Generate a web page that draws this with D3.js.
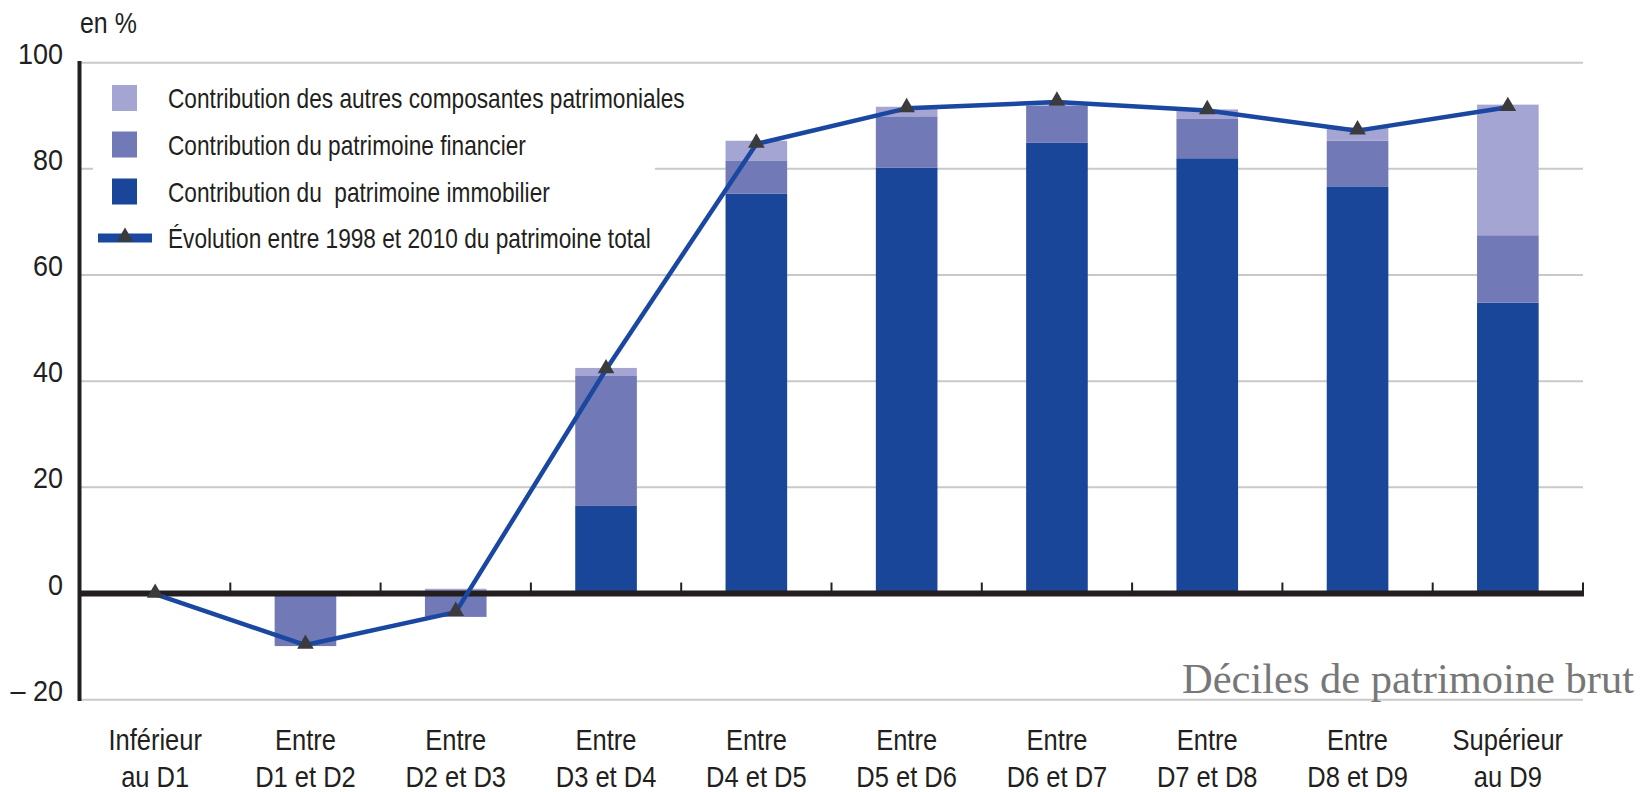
<!DOCTYPE html>
<html><head><meta charset="utf-8">
<script src="https://cdn.jsdelivr.net/npm/d3@7"></script>
<style>
html,body{margin:0;padding:0;background:#fff;}
svg{display:block;}
.narrow{font-family:"Liberation Sans",Arial,sans-serif;}
</style></head>
<body><svg id="chart" width="1645" height="792"></svg>
<script>
const categories = [["Inférieur","au D1"],["Entre","D1 et D2"],["Entre","D2 et D3"],["Entre","D3 et D4"],["Entre","D4 et D5"],["Entre","D5 et D6"],["Entre","D6 et D7"],["Entre","D7 et D8"],["Entre","D8 et D9"],["Supérieur","au D9"]];
const immobilier = [0, 0, 0, 16.5, 75.3, 80.2, 84.9, 82.0, 76.7, 54.8];
const financier  = [0, -9.9, -4.4, 24.6, 6.3, 9.7, 7.0, 7.4, 8.6, 12.7];
const autres     = [0, 0, 0.9, 1.4, 3.7, 1.8, 0.3, 1.8, 2.5, 24.6];
const total      = [-0.1, -9.7, -3.5, 42.2, 84.7, 91.4, 92.6, 91.0, 87.2, 91.6];
const yTicks = [-20, 0, 20, 40, 60, 80, 100];
const yTickLabels = ["– 20", "0", "20", "40", "60", "80", "100"];
const legendLabels = ["Contribution des autres composantes patrimoniales","Contribution du patrimoine financier","Contribution du  patrimoine immobilier","Évolution entre 1998 et 2010 du patrimoine total"];
const unitLabel = "en %";
const axisTitle = "Déciles de patrimoine brut";

const colors = {immobilier:"#1a4699", financier:"#7179b6", autres:"#a4a5d3"};
const lineColor = "#1a47a0", markColor = "#3b3b3d", inkColor = "#231f20";

const svg = d3.select("#chart");
const x = d3.scaleBand().domain(d3.range(categories.length)).range([80, 1583]).paddingInner(0.59).paddingOuter(0.295);
const xb = d3.scaleBand().domain(d3.range(categories.length)).range([80, 1583]);
const y = d3.scaleLinear().domain([-20, 100]).range([699.7, 62.7]);

// gridlines
svg.append("g").selectAll("line").data(yTicks.filter(d => d !== 0)).join("line")
  .attr("x1", 80).attr("x2", 1583).attr("y1", d => y(d)).attr("y2", d => y(d))
  .attr("stroke", "#c9c9c9").attr("stroke-width", 2);

// y labels
svg.append("g").attr("class","narrow").selectAll("text").data(yTicks).join("text")
  .attr("transform", d => `translate(63,${y(d) + 1}) scale(0.9,1)`)
  .attr("text-anchor","end")
  .attr("font-size", 30).attr("fill", inkColor)
  .text((d,i) => yTickLabels[i]);
svg.append("text").attr("class","narrow").attr("transform", `translate(80,33) scale(0.86,1)`)
  .attr("font-size", 29).attr("fill", inkColor).text(unitLabel);

// legend background
svg.append("rect").attr("x", 93).attr("y", 72).attr("width", 562).attr("height", 184).attr("fill","#fff");

// stacked bars
const table = categories.map((c,i) => ({i, immobilier: immobilier[i], financier: financier[i], autres: autres[i]}));
const stack = d3.stack().keys(["immobilier","financier","autres"]).offset(d3.stackOffsetDiverging);
const series = stack(table);
svg.append("g").selectAll("g").data(series).join("g").attr("fill", s => colors[s.key])
  .selectAll("rect").data(s => s).join("rect")
  .attr("x", d => x(d.data.i)).attr("width", x.bandwidth())
  .attr("y", d => y(Math.max(d[0], d[1]))).attr("height", d => Math.abs(y(d[0]) - y(d[1])));

// left axis
svg.append("line").attr("x1", 79.5).attr("x2", 79.5).attr("y1", 61).attr("y2", 701).attr("stroke", inkColor).attr("stroke-width", 4);
// zero line
svg.append("line").attr("x1", 78).attr("x2", 1584).attr("y1", y(0)).attr("y2", y(0)).attr("stroke", inkColor).attr("stroke-width", 6);
// category ticks
svg.append("g").selectAll("line").data(d3.range(1, categories.length + 1)).join("line")
  .attr("x1", d => xb.step()*d + 80).attr("x2", d => xb.step()*d + 80)
  .attr("y1", y(0)).attr("y2", y(0) - 11).attr("stroke", inkColor).attr("stroke-width", 2);

// total line
const lineGen = d3.line().x((d,i) => x(i) + x.bandwidth()/2).y(d => y(d));
svg.append("path").datum(total).attr("d", lineGen).attr("fill","none").attr("stroke", lineColor).attr("stroke-width", 4.5).attr("stroke-linejoin","round");
const tri = d3.symbol(d3.symbolTriangle).size(120);
svg.append("g").selectAll("path").data(total).join("path")
  .attr("d", tri).attr("fill", markColor)
  .attr("transform", (d,i) => `translate(${x(i) + x.bandwidth()/2},${y(d) - 1})`);

// x labels
const xl = svg.append("g").attr("class","narrow").selectAll("text").data(categories).join("text")
  .attr("transform", (d,i) => `translate(${x(i) + x.bandwidth()/2},0) scale(0.85,1)`)
  .attr("text-anchor","middle").attr("font-size", 30).attr("fill", inkColor);
xl.append("tspan").attr("x", 0).attr("y", 750).text(d => d[0]);
xl.append("tspan").attr("x", 0).attr("y", 787).text(d => d[1]);

// axis title
svg.append("text").attr("x", 1634).attr("y", 693).attr("text-anchor","end")
  .attr("font-family","'Liberation Serif','Times New Roman',serif").attr("font-size", 42.5).attr("fill","#777").text(axisTitle);

// legend
const legY = [98, 144.5, 191.5, 238];
const legColors = [colors.autres, colors.financier, colors.immobilier];
const lg = svg.append("g");
lg.selectAll("rect.sw").data(legColors).join("rect").attr("class","sw")
  .attr("x", 112).attr("y", (d,i) => legY[i] - 13).attr("width", 25).attr("height", 26).attr("fill", d => d);
lg.append("line").attr("x1", 98).attr("x2", 152).attr("y1", legY[3]).attr("y2", legY[3]).attr("stroke", lineColor).attr("stroke-width", 9);
lg.append("path").attr("d", tri).attr("fill", markColor).attr("transform", `translate(125,${legY[3]-1})`);
lg.selectAll("text").data(legendLabels).join("text").attr("class","narrow")
  .attr("transform", (d,i) => `translate(168,${legY[i] + 10}) scale(0.81,1)`)
  .attr("font-size", 28).attr("fill", inkColor)
  .attr("xml:space","preserve").style("white-space","pre").text(d => d);
</script></body></html>
